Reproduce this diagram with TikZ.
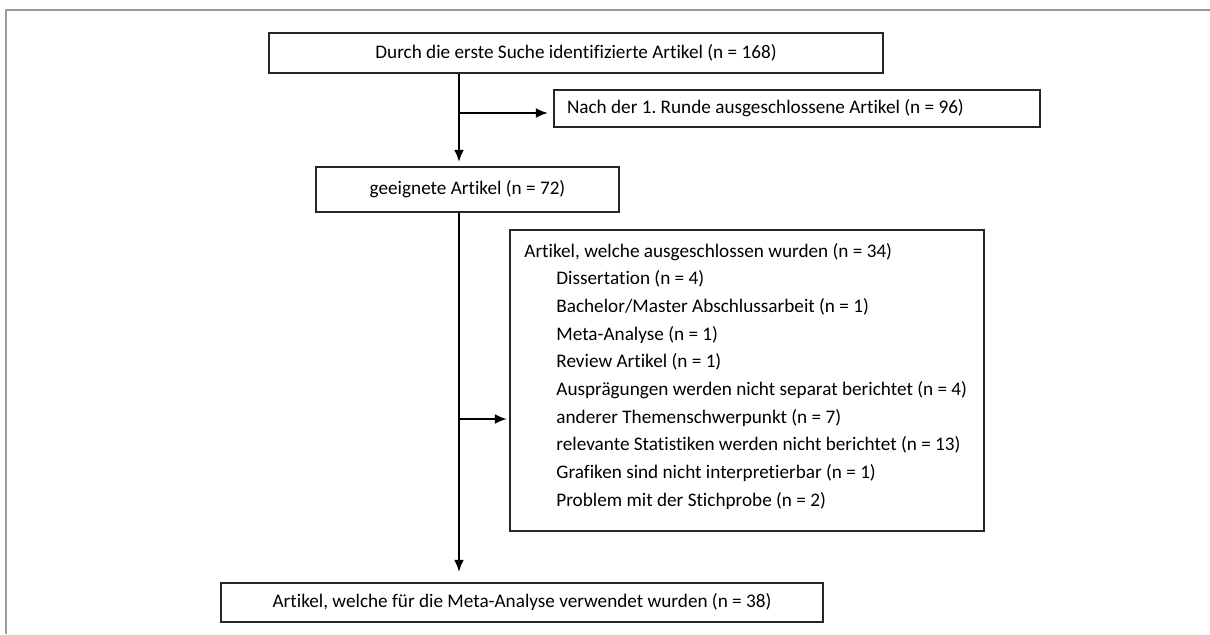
\documentclass[tikz,border=0pt]{standalone}
\usepackage{fontspec}
\setmainfont{Carlito}[Ligatures=NoCommon]
\frenchspacing
\usetikzlibrary{arrows.meta}

\tikzset{
    box/.style={draw=black!85,line width=1.1pt,inner sep=0pt,
        font=\fontsize{9.6}{11.5}\selectfont},
    flow/.style={line width=1.1pt,-{Latex[length=6pt,width=5pt]}},
    item/.style={anchor=base west,inner sep=0pt,
        font=\fontsize{9.6}{11.5}\selectfont},
}

\begin{document}
\begin{tikzpicture}[x=0.5pt,y=-0.5pt]
        \useasboundingbox (0,0) rectangle (1210,634);
        \draw[black!40,line width=0.75pt] (6,634) -- (6,10) -- (1210,10);

        \node[box,minimum width=307pt,minimum height=20pt] (search) at (576,53)
            {Durch die erste Suche identifizierte Artikel (n = 168)};
        \node[box,minimum height=18.5pt,text width=230pt,inner xsep=6.5pt,align=flush left]
            (excl1) at (797,108.5) {Nach der 1. Runde ausgeschlossene Artikel (n = 96)};
        \node[box,minimum width=151.5pt,minimum height=22.5pt] (eligible) at (467.5,189.5)
            {geeignete Artikel (n = 72)};
        \node[box,minimum width=237pt,minimum height=150.5pt] (excl2) at (747,380.5) {};
        \node[item] (reasons) at (524,257) {Artikel, welche ausgeschlossen wurden (n = 34)};
        \foreach \t [count=\i] in {Dissertation (n = 4),
            Bachelor/Master Abschlussarbeit (n = 1),
            Meta-Analyse (n = 1),
            Review Artikel (n = 1),
            Ausprägungen werden nicht separat berichtet (n = 4),
            anderer Themenschwerpunkt (n = 7),
            relevante Statistiken werden nicht berichtet (n = 13),
            Grafiken sind nicht interpretierbar (n = 1),
            Problem mit der Stichprobe (n = 2)}{
            \node[item] (reason\i) at (556,257+27.7*\i) {\t};
        }
        \node[box,minimum width=301pt,minimum height=19.5pt] (final) at (522,602.5)
            {Artikel, welche für die Meta-Analyse verwendet wurden (n = 38)};

        \coordinate (trunk) at (459,0);
        \coordinate (b1) at (459,113);
        \coordinate (b2) at (459,419);
        \draw[flow,shorten >=2pt] (search.south -| trunk) -- (eligible.north -| trunk);
        \draw[flow,shorten >=2.5pt] (b1) -- (b1 -| excl1.west);
        \draw[flow,shorten >=5pt] (eligible.south -| trunk) -- (final.north -| trunk);
        \draw[flow,shorten >=1pt] (b2) -- (b2 -| excl2.west);

        \end{tikzpicture}
\end{document}
